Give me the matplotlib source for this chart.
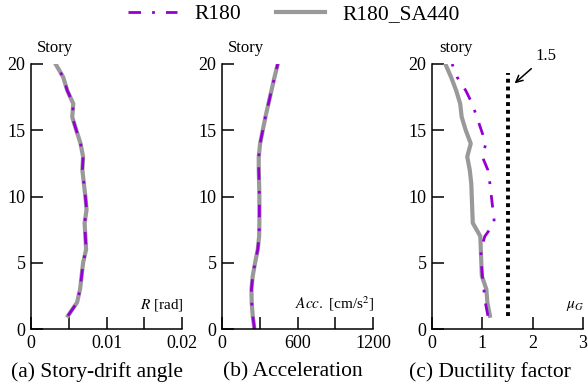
import matplotlib
matplotlib.use("Agg")
import matplotlib.pyplot as plt
import numpy as np

plt.rcParams['font.family'] = ['Liberation Serif', 'DejaVu Serif']
plt.rcParams['mathtext.fontset'] = 'stix'

# story-drift angle (rad), stories 1..20
drift_story = list(range(1, 21))
drift_r180 = [0.0049, 0.0061, 0.0065, 0.0067, 0.0069, 0.0073, 0.0072, 0.0071, 0.00736, 0.0072,
              0.0070, 0.0068, 0.0069, 0.00656, 0.0060, 0.00546, 0.0056, 0.0048, 0.00427, 0.00326]
drift_sa440 = [0.0049, 0.0061, 0.0065, 0.0067, 0.0069, 0.0073, 0.0072, 0.0071, 0.00736, 0.0072,
               0.0070, 0.0068, 0.0069, 0.00656, 0.0060, 0.00546, 0.0056, 0.0048, 0.00427, 0.00326]

# acceleration (cm/s2), stories 0..20
acc_story = list(range(0, 21))
acc_r180 = [258, 244, 236, 234, 244, 263, 284, 295, 297, 297, 297,
            295, 292, 292, 303, 324, 345, 369, 393, 417, 443]
acc_sa440 = [258, 244, 236, 234, 244, 263, 284, 295, 297, 297, 297,
             295, 292, 292, 303, 324, 345, 369, 393, 417, 443]

# ductility factor, stories 1..20
duct_story = list(range(1, 21))
duct_r180 = [1.11, 1.06, 1.03, 1.00, 0.98, 0.97, 1.05, 1.24, 1.21, 1.18,
             1.15, 1.11, 1.00, 1.07, 0.98, 0.89, 0.80, 0.67, 0.50, 0.40]
duct_sa440 = [1.15, 1.10, 1.08, 0.99, 0.98, 0.97, 0.96, 0.81, 0.80, 0.79,
              0.78, 0.75, 0.70, 0.77, 0.67, 0.59, 0.56, 0.48, 0.38, 0.265]
duct_limit = 1.5
limit_range = [1, 19.3]

purple = '#9400D3'
grey = '#999999'
dashdot = (0, (4.5, 4, 1, 4))

fig = plt.figure(figsize=(5.88, 3.87), dpi=100)
w = 151 / 588
b = 1 - 329 / 387
h = (329 - 64) / 387
ax_a = fig.add_axes([31 / 588, b, w, h])
ax_b = fig.add_axes([222 / 588, b, w, h])
ax_c = fig.add_axes([432 / 588, b, w, h])


def style(ax, xlim, xticks, xlabels, ylab, xlab):
    ax.set_xlim(*xlim)
    ax.set_ylim(0, 20)
    ax.set_xticks(xticks)
    ax.set_xticklabels(xlabels)
    ax.set_yticks([0, 5, 10, 15, 20])
    for s in ['top', 'right']:
        ax.spines[s].set_visible(False)
    for s in ['left', 'bottom']:
        ax.spines[s].set_linewidth(1.1)
    ax.tick_params(direction='in', length=8.5, width=1.1, labelsize=13, pad=4)
    ax.text(0.16, 1.03, ylab, transform=ax.transAxes, ha='center', va='bottom', fontsize=12)
    ax.text(1.01, 0.06, xlab, transform=ax.transAxes, ha='right', va='bottom', fontsize=11)


ax_a.plot(drift_sa440, drift_story, color=grey, lw=3)
ax_a.plot(drift_r180, drift_story, color=purple, lw=2, ls=dashdot)
style(ax_a, (0, 0.02), [0, 0.005, 0.01, 0.015, 0.02], ['0', '', '0.01', '', '0.02'],
      'Story', r'$R$ [rad]')

ax_b.plot(acc_sa440, acc_story, color=grey, lw=3)
ax_b.plot(acc_r180, acc_story, color=purple, lw=2, ls=dashdot)
style(ax_b, (0, 1200), [0, 300, 600, 900, 1200], ['0', '', '600', '', '1200'],
      'Story', r'$Acc.$ [cm/s$^2$]')

l2, = ax_c.plot(duct_sa440, duct_story, color=grey, lw=3, label='R180_SA440')
l1, = ax_c.plot(duct_r180, duct_story, color=purple, lw=2, ls=dashdot, label='R180')
ax_c.plot([duct_limit, duct_limit], limit_range, color='black', lw=2.8, ls=(0, (1.0, 1.0)))
style(ax_c, (0, 3), [0, 1, 2, 3], ['0', '1', '2', '3'], 'story', r'$\mu_G$')
ax_c.annotate('1.5', xy=(1.6, 18.4), xytext=(2.05, 20.0), fontsize=12,
              ha='left', va='bottom', annotation_clip=False,
              arrowprops=dict(arrowstyle='->', color='black', lw=1.1))

fig.text(97 / 588, 1 - 372 / 387, '(a) Story-drift angle', ha='center', va='center', fontsize=15.5)
fig.text(293 / 588, 1 - 372 / 387, '(b) Acceleration', ha='center', va='center', fontsize=15.5)
fig.text(490 / 588, 1 - 372 / 387, '(c) Ductility factor', ha='center', va='center', fontsize=15.5)

fig.legend([l1, l2], ['R180', 'R180_SA440'], loc='center', bbox_to_anchor=(0.5, 1 - 14 / 387),
           ncol=2, frameon=False, fontsize=15.5, handlelength=2.3, columnspacing=1.6)

fig.savefig('out.png', dpi=100)
